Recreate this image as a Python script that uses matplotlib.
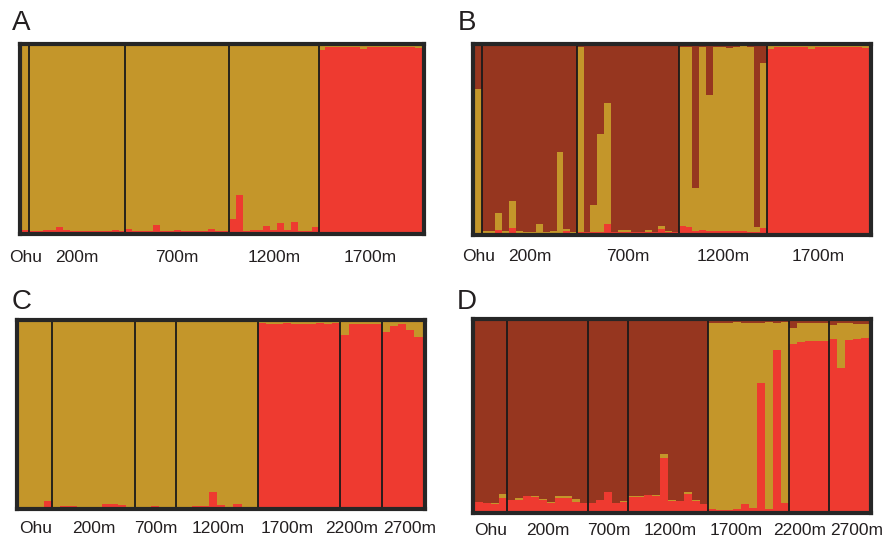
import numpy as np
import matplotlib
matplotlib.use("Agg")
from matplotlib import pyplot as plt

plt.rcParams['font.family'] = ['Liberation Sans', 'DejaVu Sans']

RED = "#ee3a30"
GOLD = "#c4962a"
BROWN = "#96361f"
FRAME = "#262626"

pops_AB = ["Ohu", "200m", "700m", "1200m", "1700m"]
pops_CD = ["Ohu", "200m", "700m", "1200m", "1700m", "2200m", "2700m"]

# Panel A (K=2): red membership per individual, gold is the rest
A_red = [
    [0.01],
    [0.005, 0.005, 0.01, 0.01, 0.025, 0.01, 0.005, 0.005, 0.008, 0.005, 0.005, 0.008, 0.01, 0.005],
    [0.016, 0.003, 0.003, 0.005, 0.04, 0.005, 0.005, 0.012, 0.005, 0.003, 0.003, 0.003, 0.015, 0.005, 0.003],
    [0.068, 0.2, 0.008, 0.012, 0.01, 0.033, 0.012, 0.05, 0.012, 0.055, 0.004, 0.004, 0.025],
    [0.98, 0.995, 0.995, 0.995, 0.995, 0.995, 0.985, 0.995, 0.995, 0.995, 0.995, 0.995, 0.995, 0.995, 0.99],
]

# Panel B (K=3): red and gold membership, brown is the rest
B_red = [
    [0.0],
    [0, 0, 0.014, 0, 0.027, 0, 0, 0, 0, 0, 0, 0, 0.01, 0],
    [0.002, 0.002, 0.005, 0.004, 0.045, 0.002, 0.002, 0.004, 0.002, 0.002, 0.002, 0.002, 0.02, 0.002, 0.002],
    [0.036, 0.032, 0.007, 0.014, 0.01, 0.007, 0.007, 0.007, 0.007, 0.01, 0.005, 0.005, 0.025],
    [0.985, 0.995, 0.995, 0.995, 0.995, 0.993, 0.983, 0.995, 0.995, 0.995, 0.995, 0.995, 0.995, 0.995, 0.99],
]
B_gold = [
    [0.77],
    [0.01, 0.007, 0.09, 0.01, 0.141, 0.01, 0.004, 0.004, 0.045, 0.004, 0.007, 0.43, 0.008, 0.003],
    [0.994, 0.002, 0.143, 0.525, 0.648, 0.002, 0.01, 0.008, 0.004, 0.002, 0.01, 0.002, 0.017, 0.005, 0.002],
    [0.959, 0.961, 0.231, 0.982, 0.728, 0.989, 0.988, 0.981, 0.989, 0.988, 0.99, 0.025, 0.882],
    [0.015, 0.005, 0.005, 0.005, 0.005, 0.007, 0.017, 0.005, 0.005, 0.005, 0.005, 0.005, 0.005, 0.005, 0.01],
]

# Panel C (K=2)
C_red = [
    [0.003, 0.003, 0.003, 0.035],
    [0.004, 0.009, 0.005, 0.004, 0.004, 0.004, 0.016, 0.016, 0.01, 0.004],
    [0.004, 0.004, 0.007, 0.004, 0.003],
    [0.004, 0.004, 0.005, 0.005, 0.08, 0.01, 0.004, 0.02, 0.004, 0.004],
    [0.992, 0.99, 0.99, 0.993, 0.99, 0.99, 0.99, 0.993, 0.985, 0.993],
    [0.93, 0.99, 0.987, 0.987, 0.99],
    [0.945, 0.975, 0.99, 0.955, 0.915],
]

# Panel D (K=3)
D_red = [
    [0.044, 0.038, 0.037, 0.065],
    [0.054, 0.056, 0.077, 0.073, 0.056, 0.04, 0.068, 0.068, 0.047, 0.04],
    [0.04, 0.056, 0.098, 0.04, 0.047],
    [0.073, 0.073, 0.082, 0.079, 0.28, 0.05, 0.05, 0.09, 0.053, 0.035],
    [0.009, 0.005, 0.005, 0.009, 0.034, 0.012, 0.673, 0.009, 0.846, 0.04],
    [0.88, 0.889, 0.891, 0.893, 0.895],
    [0.905, 0.751, 0.897, 0.902, 0.908],
]
D_gold = [
    [0.003, 0.002, 0.002, 0.021],
    [0.004, 0.009, 0.002, 0.002, 0.003, 0.004, 0.011, 0.011, 0.016, 0.002],
    [0.002, 0.002, 0.002, 0.002, 0.002],
    [0.002, 0.002, 0.003, 0.002, 0.017, 0.004, 0.002, 0.01, 0.004, 0.002],
    [0.979, 0.985, 0.985, 0.984, 0.956, 0.976, 0.313, 0.984, 0.14, 0.953],
    [0.083, 0.097, 0.097, 0.097, 0.095],
    [0.075, 0.239, 0.093, 0.083, 0.074],
]

W, H = 888, 541
SPINE = 3.0                      # points
HALF = SPINE / 72 * 100 / 2      # half spine width in pixels

fig = plt.figure(figsize=(W / 100, H / 100), dpi=100)
fig.patch.set_facecolor("white")


def structure(inner, pops, red, gold=None, label_x=None, label_off=22):
    # inner = plotting area inside the frame, in pixels (l, t, r, b)
    l, t, r_, b_ = inner
    ax = fig.add_axes([(l - HALF) / W, 1 - (b_ + HALF) / H,
                       (r_ - l + 2 * HALF) / W, (b_ - t + 2 * HALF) / H])
    r = np.concatenate([np.array(p, float) for p in red])
    if gold is None:
        g = 1 - r
    else:
        g = np.concatenate([np.array(p, float) for p in gold])
    b = 1 - r - g
    n = len(r)
    x = np.arange(n)
    ax.bar(x, r, width=1, align="edge", color=RED, linewidth=0)
    ax.bar(x, g, bottom=r, width=1, align="edge", color=GOLD, linewidth=0)
    if gold is not None:
        ax.bar(x, b, bottom=r + g, width=1, align="edge", color=BROWN, linewidth=0)
    padx = HALF * n / (r_ - l)
    pady = HALF / (b_ - t)
    ax.set_xlim(-padx, n + padx)
    ax.set_ylim(-pady, 1 + pady)
    ax.set_xticks([])
    ax.set_yticks([])
    for s in ax.spines.values():
        s.set_linewidth(SPINE)
        s.set_color(FRAME)
    sizes = [len(p) for p in red]
    edges = np.cumsum(sizes)
    for e in edges[:-1]:
        ax.axvline(e, color="#1a1a1a", lw=1.3)
    if label_x is None:
        label_x = edges - np.array(sizes) / 2
    for name, lx in zip(pops, label_x):
        ax.annotate(name, xy=(lx, 0), xycoords=("data", "axes fraction"),
                    xytext=(0, -label_off), textcoords="offset pixels",
                    ha="center", va="center", fontsize=12.5, color="#231f20")
    return ax


structure((22, 46, 422, 232), pops_AB, A_red, label_off=23)
structure((475, 46, 869, 232.7), pops_AB, B_red, B_gold, label_off=22)

lab_CD = [2, 9, 16.6, 24.2, 32.5, 40.4, 47.4]
structure((19.3, 321.7, 422.7, 507.3), pops_CD, C_red, label_x=lab_CD, label_off=19)
structure((475, 320.7, 869.3, 510.7), pops_CD, D_red, D_gold, label_x=lab_CD, label_off=18)

for letter, (lx, ly) in zip("ABCD", [(12, 30), (458, 30), (12, 309), (457, 309)]):
    fig.text(lx / W, 1 - ly / H, letter, fontsize=20, ha="left", va="baseline",
             color="#231f20")

fig.savefig("out.png", dpi=100)
